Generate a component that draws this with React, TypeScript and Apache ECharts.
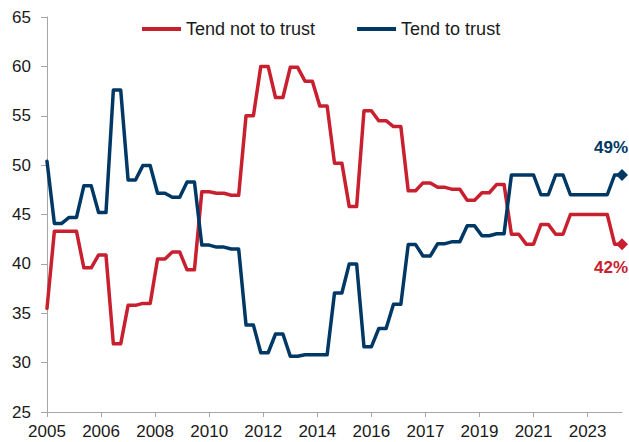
import React, { useEffect, useRef } from "react";
import * as echarts from "echarts";

// Quarterly points (survey values held for two quarters), starting January 2005
const START_YEAR = 2005;
const MONTHS_SPAN = 235; // Jan 2005 .. Jul 2024
const QUARTER_STEP = 3;
const TICK_EVERY_MONTHS = 22;

const yMin = 25;
const yMax = 65;
const yStep = 5;

const seriesNames = ["Tend not to trust", "Tend to trust"];
const seriesColors = ["#C8202F", "#003865"];

const notTrust = [
  35.5, 43.3, 43.3, 43.3, 43.3, 39.6, 39.6, 40.9, 40.9, 31.9, 31.9, 35.8, 35.8, 36.0, 36.0,
  40.5, 40.5, 41.2, 41.2, 39.4, 39.4, 47.3, 47.3, 47.15, 47.15, 46.95, 46.95, 55.0, 55.0,
  60.0, 60.0, 56.85, 56.85, 59.9, 59.9, 58.5, 58.5, 56.0, 56.0, 50.2, 50.2, 45.8, 45.8,
  55.5, 55.5, 54.5, 54.5, 53.9, 53.9, 47.4, 47.4, 48.2, 48.2, 47.75, 47.75, 47.55, 47.55,
  46.45, 46.45, 47.2, 47.2, 48.05, 48.05, 43.0, 43.0, 42.0, 42.0, 44.0, 44.0, 43.0, 43.0,
  45.0, 45.0, 45.0, 45.0, 45.0, 45.0, 42.0, 42.0,
];

const trust = [
  50.4, 44.1, 44.1, 44.7, 44.7, 47.9, 47.9, 45.2, 45.2, 57.6, 57.6, 48.5, 48.5, 49.95, 49.95,
  47.15, 47.15, 46.75, 46.75, 48.3, 48.3, 41.9, 41.9, 41.7, 41.7, 41.5, 41.5, 33.8, 33.8,
  31.0, 31.0, 32.9, 32.9, 30.65, 30.65, 30.8, 30.8, 30.8, 30.8, 37.05, 37.05, 40.0, 40.0,
  31.6, 31.6, 33.45, 33.45, 35.9, 35.9, 41.95, 41.95, 40.8, 40.8, 42.05, 42.05, 42.25, 42.25,
  43.85, 43.85, 42.85, 42.85, 43.05, 43.05, 49.0, 49.0, 49.0, 49.0, 47.0, 47.0, 49.0, 49.0,
  47.0, 47.0, 47.0, 47.0, 47.0, 47.0, 49.0, 49.0,
];

const monthCategories = Array.from({ length: MONTHS_SPAN }, (_, m) => {
  const y = START_YEAR + Math.floor(m / 12);
  const mm = String((m % 12) + 1).padStart(2, "0");
  return `${y}-${mm}`;
});

const FONT = "'Liberation Sans', Arial, sans-serif";
const TEXT_COLOR = "#1a1a1a";
const AXIS_COLOR = "#a6a6a6";

function buildSeries(name: string, values: number[], color: string, below: boolean) {
  const data = values.map((v, i) => [monthCategories[i * QUARTER_STEP], v]);
  const last = data[data.length - 1];
  return {
    name,
    type: "line",
    data,
    symbol: "none",
    color,
    lineStyle: { width: 3.5, color, cap: "round", join: "round" },
    markPoint: {
      symbol: "diamond",
      symbolSize: 12,
      itemStyle: { color },
      data: [
        {
          coord: last,
          label: {
            show: true,
            position: below ? "bottom" : "top",
            distance: 5,
            offset: below ? [-11, 4] : [-11, -8],
            formatter: `${Math.round(last[1] as number)}%`,
            color,
            fontWeight: "bold",
            fontSize: 17,
            fontFamily: FONT,
          },
        },
      ],
    },
  };
}

export default function App() {
  const ref = useRef<HTMLDivElement>(null);
  useEffect(() => {
    if (!ref.current) return;
    const chart = echarts.init(ref.current, undefined, { renderer: "svg" });
    chart.setOption({
      animation: false,
      backgroundColor: "#ffffff",
      textStyle: { fontFamily: FONT },
      grid: { left: 47, right: 7, top: 17, bottom: 30, containLabel: false },
      legend: {
        data: seriesNames,
        left: 137,
        top: 15,
        icon: "rect",
        itemWidth: 39,
        itemHeight: 4,
        itemGap: 42,
        textStyle: { fontSize: 18, color: TEXT_COLOR, fontFamily: FONT },
      },
      xAxis: {
        type: "category",
        data: monthCategories,
        boundaryGap: false,
        axisLine: { show: true, lineStyle: { color: AXIS_COLOR, width: 1 } },
        axisTick: {
          show: true,
          interval: TICK_EVERY_MONTHS - 1,
          length: 5,
          lineStyle: { color: AXIS_COLOR },
        },
        axisLabel: {
          interval: TICK_EVERY_MONTHS - 1,
          margin: 11,
          fontSize: 17,
          color: TEXT_COLOR,
          fontFamily: FONT,
          formatter: (v: string) => v.slice(0, 4),
        },
        splitLine: { show: false },
      },
      yAxis: {
        type: "value",
        min: yMin,
        max: yMax,
        interval: yStep,
        axisLine: { show: true, lineStyle: { color: AXIS_COLOR, width: 1 } },
        axisTick: { show: true, length: 6, lineStyle: { color: AXIS_COLOR } },
        axisLabel: { margin: 16, fontSize: 17, color: TEXT_COLOR, fontFamily: FONT },
        splitLine: { show: false },
      },
      series: [
        buildSeries(seriesNames[0], notTrust, seriesColors[0], true),
        buildSeries(seriesNames[1], trust, seriesColors[1], false),
      ],
    });
    return () => chart.dispose();
  }, []);
  return (
    <div
      ref={ref}
      style={{ position: "absolute", left: 0, top: 0, width: 629, height: 442 }}
    />
  );
}
